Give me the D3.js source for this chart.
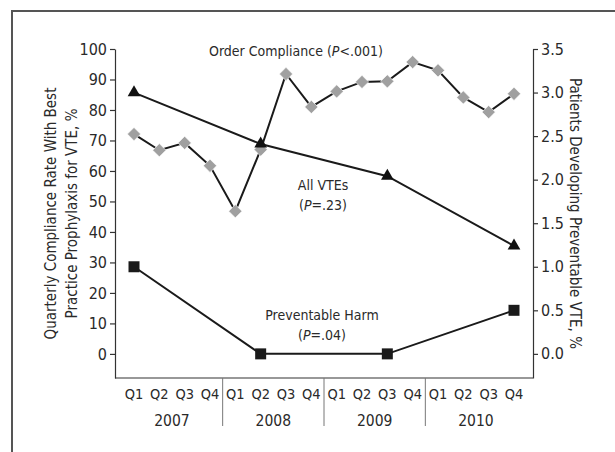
<!DOCTYPE html>
<html>
<head>
<meta charset="utf-8">
<script src="https://cdn.jsdelivr.net/npm/d3@7"></script>
<style>
  body { margin: 0; background: #fff; }
  text { font-family: "Liberation Sans Narrow", "DejaVu Sans Condensed", "DejaVu Sans", sans-serif; font-stretch: condensed; fill: #2a2a2a; }
</style>
</head>
<body>
<div id="chart"></div>
<script>
//quarters and years for the bottom axis
var years = ["2007", "2008", "2009", "2010"];
var quarterNames = ["Q1", "Q2", "Q3", "Q4"];

//order compliance, % (left axis), one value per quarter
var compliance = [72.1, 66.8, 69.2, 61.7, 46.8, 67.0, 91.8, 81.0, 86.1, 89.2, 89.4, 95.7, 93.0, 84.1, 79.3, 85.3];

//all VTEs and preventable harm, % (right axis), only measured every 5 quarters
var vteQuarters = [0, 5, 10, 15];
var allVte = [3.0, 2.41, 2.04, 1.24];
var harm = [1.0, 0.0, 0.0, 0.5];

//tick labels
var leftTicks = [0, 10, 20, 30, 40, 50, 60, 70, 80, 90, 100];
var rightTicks = [0, 0.5, 1, 1.5, 2, 2.5, 3, 3.5];

//plot box (careful: "top" is taken by window)
var W = 615, H = 452;
var pLeft = 115, pRight = 533, pTop = 49, pBottom = 378;

var svg = d3.select('#chart').append('svg')
  .attr('width', W)
  .attr('height', H);

//the frame around the figure (top and left only, like the scan)
svg.append('path')
  .attr('d', 'M12,' + H + 'V11H' + W)
  .attr('fill', 'none')
  .attr('stroke', '#555')
  .attr('stroke-width', 2);

//one key per quarter
var keys = [];
years.forEach(function(y) {
  quarterNames.forEach(function(q) { keys.push(y + ' ' + q); });
});

var x = d3.scalePoint().domain(keys).range([pLeft, pRight]).padding(0.75);
var yL = d3.scaleLinear().domain([-7.9, 100]).range([pBottom, pTop]);
var yR = d3.scaleLinear().domain([-0.277, 3.5]).range([pBottom, pTop]);

//left axis
var gL = svg.append('g')
  .attr('transform', 'translate(' + pLeft + ',0)')
  .call(d3.axisLeft(yL).tickValues(leftTicks).tickSize(5).tickSizeOuter(0).tickPadding(3));

//right axis
var gR = svg.append('g')
  .attr('transform', 'translate(' + pRight + ',0)')
  .call(d3.axisRight(yR).tickValues(rightTicks).tickFormat(d3.format('.1f')).tickSize(5).tickSizeOuter(0).tickPadding(3));

[gL, gR].forEach(function(g) {
  g.selectAll('path, line').attr('stroke', '#333').attr('stroke-width', 1.2);
  g.selectAll('text').attr('font-family', null).style('font-size', '16px').attr('fill', '#2a2a2a');
});

//bottom line
svg.append('line')
  .attr('x1', pLeft).attr('x2', pRight)
  .attr('y1', pBottom).attr('y2', pBottom)
  .attr('stroke', '#333').attr('stroke-width', 1.2);

//quarter labels
svg.selectAll('.qlab').data(keys).enter().append('text')
  .attr('class', 'qlab')
  .attr('x', function(d) { return x(d); })
  .attr('y', 394)
  .attr('dy', '0.35em')
  .attr('text-anchor', 'middle')
  .style('font-size', '14.5px')
  .text(function(d) { return d.split(' ')[1]; });

//year labels, centred under their 4 quarters
svg.selectAll('.ylab').data(years).enter().append('text')
  .attr('class', 'ylab')
  .attr('x', function(d) { return (x(d + ' Q1') + x(d + ' Q4')) / 2; })
  .attr('y', 421)
  .attr('dy', '0.35em')
  .attr('text-anchor', 'middle')
  .style('font-size', '15.5px')
  .text(function(d) { return d; });

//separators between years
var step = x.step();
svg.selectAll('.sep').data(years.slice(1)).enter().append('line')
  .attr('x1', function(d) { return x(d + ' Q1') - step / 2; })
  .attr('x2', function(d) { return x(d + ' Q1') - step / 2; })
  .attr('y1', pBottom).attr('y2', 426)
  .attr('stroke', '#777').attr('stroke-width', 1);

//axis titles
var midY = (pTop + pBottom) / 2;
svg.append('text')
  .attr('transform', 'translate(51,' + midY + ') rotate(-90)')
  .attr('text-anchor', 'middle').attr('dy', '0.35em')
  .style('font-size', '15px')
  .text('Quarterly Compliance Rate With Best');
svg.append('text')
  .attr('transform', 'translate(72,' + midY + ') rotate(-90)')
  .attr('text-anchor', 'middle').attr('dy', '0.35em')
  .style('font-size', '15px')
  .text('Practice Prophylaxis for VTE, %');
svg.append('text')
  .attr('transform', 'translate(575,' + midY + ') rotate(90)')
  .attr('text-anchor', 'middle').attr('dy', '0.35em')
  .style('font-size', '15px')
  .text('Patients Developing Preventable VTE, %');

//order compliance line + diamonds
var lineL = d3.line()
  .x(function(d, i) { return x(keys[i]); })
  .y(function(d) { return yL(d); });

svg.append('path')
  .datum(compliance)
  .attr('d', lineL)
  .attr('fill', 'none')
  .attr('stroke', '#1a1a1a')
  .attr('stroke-width', 2);

svg.selectAll('.dia').data(compliance).enter().append('path')
  .attr('class', 'dia')
  .attr('d', d3.symbol(d3.symbolSquare, 88))
  .attr('transform', function(d, i) { return 'translate(' + x(keys[i]) + ',' + yL(d) + ') rotate(45)'; })
  .attr('fill', '#a0a0a0')
  .attr('stroke', '#fff')
  .attr('stroke-width', 0.6);

//right-axis series
var lineR = d3.line()
  .x(function(d, i) { return x(keys[vteQuarters[i]]); })
  .y(function(d) { return yR(d); });

[allVte, harm].forEach(function(series) {
  svg.append('path')
    .datum(series)
    .attr('d', lineR)
    .attr('fill', 'none')
    .attr('stroke', '#1a1a1a')
    .attr('stroke-width', 2);
});

svg.selectAll('.tri').data(allVte).enter().append('path')
  .attr('d', d3.symbol(d3.symbolTriangle, 70))
  .attr('transform', function(d, i) { return 'translate(' + x(keys[vteQuarters[i]]) + ',' + yR(d) + ')'; })
  .attr('fill', '#111');

svg.selectAll('.sq').data(harm).enter().append('path')
  .attr('d', d3.symbol(d3.symbolSquare, 121))
  .attr('transform', function(d, i) { return 'translate(' + x(keys[vteQuarters[i]]) + ',' + yR(d) + ')'; })
  .attr('fill', '#1a1a1a');

//series labels
function label(xp, yp, parts) {
  var t = svg.append('text')
    .attr('x', xp).attr('y', yp)
    .attr('dy', '0.35em')
    .attr('text-anchor', 'middle')
    .style('font-size', '14px');
  parts.forEach(function(p) {
    t.append('tspan').style('font-style', p[1] ? 'italic' : 'normal').text(p[0]);
  });
}
label(296, 51, [['Order Compliance ('], ['P', true], ['<.001)']]);
label(323, 185, [['All VTEs']]);
label(323, 205, [['('], ['P', true], ['=.23)']]);
label(322, 315, [['Preventable Harm']]);
label(322, 335, [['('], ['P', true], ['=.04)']]);
</script>
</body>
</html>
